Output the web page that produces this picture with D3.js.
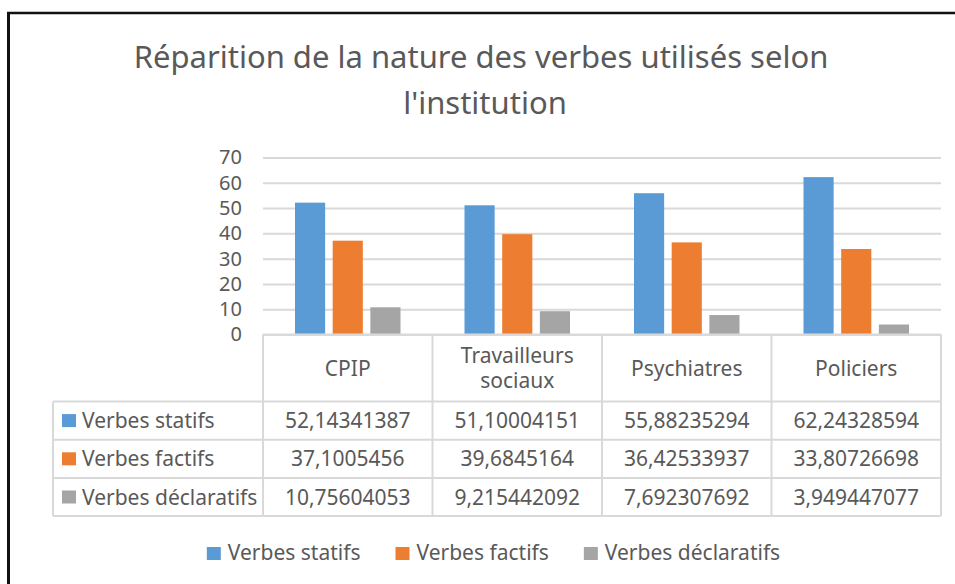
<!DOCTYPE html>
<html>
<head>
<meta charset="utf-8">
<script src="https://cdn.jsdelivr.net/npm/d3@7"></script>
<style>
    body { margin: 0; background: #fff; }
    text { font-family: "Noto Sans", sans-serif; fill: #595959; }
</style>
</head>
<body>
<div id="chart"></div>
<script>

// data
let categories = ["CPIP", "Travailleurs sociaux", "Psychiatres", "Policiers"];
let seriesNames = ["Verbes statifs", "Verbes factifs", "Verbes déclaratifs"];
let statifs = [52.14341387, 51.10004151, 55.88235294, 62.24328594];
let factifs = [37.1005456, 39.6845164, 36.42533937, 33.80726698];
let declaratifs = [10.75604053, 9.215442092, 7.692307692, 3.949447077];
let yTicks = [0, 10, 20, 30, 40, 50, 60, 70];
let colors = ["#5b9bd5", "#ed7d31", "#a5a5a5"];

class BarTableChart {

    constructor(_parentElement) {
        this.parentElement = _parentElement;
        this.width = 955;
        this.height = 584;
        this.plot = { left: 263, right: 941, top: 157.5, bottom: 334.5 };
        this.tableLeft = 53;
        this.headerBottom = 401.5;
        this.rowHeight = 38.2;
        this.gridColor = "#d9d9d9";

        this.wrangleData();
    }

    wrangleData() {
        let vis = this;
        vis.values = [statifs, factifs, declaratifs];
        vis.series = seriesNames.map((name, i) => ({ name: name, color: colors[i], values: vis.values[i] }));
        vis.initVis();
    }

    initVis() {
        let vis = this;

        vis.svg = d3.select("#" + vis.parentElement).append("svg")
            .attr("width", vis.width)
            .attr("height", vis.height);

        vis.x0 = d3.scaleBand().domain(categories).range([vis.plot.left, vis.plot.right]);
        let outer = (vis.x0.bandwidth() - 105.5) / 2;
        vis.x1 = d3.scaleBand().domain(seriesNames)
            .range([outer, vis.x0.bandwidth() - outer])
            .paddingInner(0.2);
        vis.y = d3.scaleLinear().domain([0, 70]).range([vis.plot.bottom, vis.plot.top]);

        vis.drawFrame();
        vis.drawTitle();
        vis.drawAxis();
        vis.drawBars();
        vis.drawTable();
        vis.drawLegend();
    }

    drawFrame() {
        let vis = this;
        vis.svg.append("line")
            .attr("x1", 7).attr("x2", vis.width)
            .attr("y1", 13).attr("y2", 13)
            .style("stroke", "#111").style("stroke-width", 2.5);
        vis.svg.append("line")
            .attr("x1", 8.5).attr("x2", 8.5)
            .attr("y1", 12).attr("y2", vis.height)
            .style("stroke", "#111").style("stroke-width", 3);
    }

    drawTitle() {
        let vis = this;
        let title = vis.svg.append("text")
            .attr("text-anchor", "middle")
            .style("font-size", "31px");
        title.append("tspan").attr("x", 481).attr("y", 68)
            .text("Réparition de la nature des verbes utilisés selon");
        title.append("tspan").attr("x", 485).attr("y", 114)
            .text("l'institution");
    }

    drawAxis() {
        let vis = this;

        let yAxis = d3.axisLeft(vis.y)
            .tickValues(yTicks)
            .tickSize(-(vis.plot.right - vis.plot.left))
            .tickPadding(21);

        let g = vis.svg.append("g")
            .attr("transform", "translate(" + vis.plot.left + ",0)")
            .call(yAxis);

        g.select(".domain").remove();
        g.selectAll(".tick line")
            .style("stroke", vis.gridColor)
            .style("stroke-width", 2);
        g.selectAll(".tick text")
            .style("font-size", "20px")
            .style("font-family", "Noto Sans")
            .style("fill", "#595959");
    }

    drawBars() {
        let vis = this;

        let groups = vis.svg.append("g").selectAll("g")
            .data(categories)
            .enter().append("g")
            .attr("transform", d => "translate(" + vis.x0(d) + ",0)");

        groups.selectAll("rect")
            .data((d, i) => vis.series.map(s => ({ name: s.name, color: s.color, value: s.values[i] })))
            .enter().append("rect")
            .attr("x", d => vis.x1(d.name))
            .attr("width", vis.x1.bandwidth())
            .attr("y", d => vis.y(d.value))
            .attr("height", d => vis.y(0) - vis.y(d.value))
            .style("fill", d => d.color);
    }

    drawTable() {
        let vis = this;
        let grid = vis.svg.append("g")
            .style("stroke", vis.gridColor)
            .style("stroke-width", 2);

        let tableBottom = vis.headerBottom + vis.rowHeight * vis.series.length;

        // horizontal lines
        grid.append("line")
            .attr("x1", vis.plot.left).attr("x2", vis.plot.right)
            .attr("y1", vis.plot.bottom).attr("y2", vis.plot.bottom);
        d3.range(vis.series.length + 1).forEach(i => {
            let yy = vis.headerBottom + i * vis.rowHeight;
            grid.append("line")
                .attr("x1", vis.tableLeft).attr("x2", vis.plot.right)
                .attr("y1", yy).attr("y2", yy);
        });

        // vertical lines
        grid.append("line")
            .attr("x1", vis.tableLeft).attr("x2", vis.tableLeft)
            .attr("y1", vis.headerBottom).attr("y2", tableBottom);
        categories.concat(["end"]).forEach((c, i) => {
            let xx = vis.plot.left + i * vis.x0.step();
            grid.append("line")
                .attr("x1", xx).attr("x2", xx)
                .attr("y1", vis.plot.bottom).attr("y2", tableBottom);
        });

        // header labels, wrapped to the column
        let headerMid = (vis.plot.bottom + vis.headerBottom) / 2;
        categories.forEach(c => {
            let cx = vis.x0(c) + vis.x0.bandwidth() / 2;
            let label = vis.svg.append("text")
                .attr("text-anchor", "middle")
                .style("font-size", "21px");
            let probe = label.append("tspan").text(c);
            let lines = [c];
            if (probe.node().getComputedTextLength() > vis.x0.bandwidth() - 12) {
                lines = c.split(" ");
            }
            probe.remove();
            lines.forEach((l, i) => {
                label.append("tspan")
                    .attr("x", cx)
                    .attr("y", headerMid + 7.5 + (i - (lines.length - 1) / 2) * 25.5)
                    .text(l);
            });
        });

        // rows
        vis.series.forEach((s, r) => {
            let mid = vis.headerBottom + (r + 0.5) * vis.rowHeight;
            vis.svg.append("rect")
                .attr("x", 62).attr("y", mid - 6.5)
                .attr("width", 14).attr("height", 13)
                .style("fill", s.color);
            vis.svg.append("text")
                .attr("x", 82).attr("y", mid + 7.5)
                .style("font-size", "21px")
                .text(s.name);

            s.values.forEach((v, i) => {
                vis.svg.append("text")
                    .attr("x", vis.x0(categories[i]) + vis.x0.bandwidth() / 2)
                    .attr("y", mid + 7.5)
                    .attr("text-anchor", "middle")
                    .style("font-size", "21px")
                    .text(String(v).replace(".", ","));
            });
        });
    }

    drawLegend() {
        let vis = this;
        let legend = vis.svg.append("g");
        let xPos = 0;

        vis.series.forEach(s => {
            let item = legend.append("g").attr("transform", "translate(" + xPos + ",0)");
            item.append("rect")
                .attr("x", 0).attr("y", -13)
                .attr("width", 14).attr("height", 13)
                .style("fill", s.color);
            let t = item.append("text")
                .attr("x", 21).attr("y", 0)
                .style("font-size", "21px")
                .text(s.name);
            xPos += 21 + t.node().getComputedTextLength() + 35;
        });

        let total = xPos - 35;
        legend.attr("transform", "translate(" + (493.5 - total / 2) + ",560)");
    }
}

new BarTableChart("chart");

</script>
</body>
</html>
